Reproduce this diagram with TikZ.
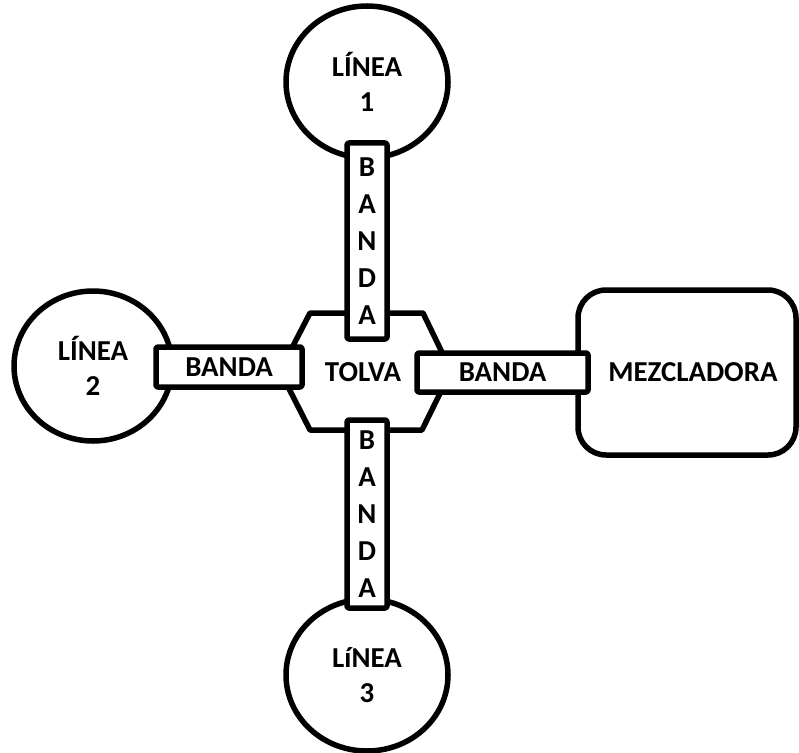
\documentclass[tikz,border=0pt]{standalone}
\usepackage{fontspec}
\setmainfont{Carlito}[BoldFont={Carlito Bold}]
\usetikzlibrary{shapes.geometric}
\begin{document}
\begin{tikzpicture}[x=1bp,y=-1bp,
  line width=5.5bp, line join=round,
  lbl/.style={font=\bfseries\fontsize{29}{35}\selectfont, align=center, inner sep=0pt},
  lineaellipse/.style={draw, ellipse, fill=white, inner sep=0pt, minimum width=162bp, minimum height=152bp, lbl},
  bandabox/.style={draw, fill=white, rounded corners=2bp, inner sep=0pt, lbl},
  vbanda/.style={bandabox, minimum width=40bp, font=\bfseries\fontsize{29}{37}\selectfont}
]
\useasboundingbox (0,0) rectangle (799,753);
% lines (ellipses)
\node[lineaellipse] (l1) at (367,82) {LÍNEA\\1};
\node[lineaellipse, minimum width=158bp, minimum height=150bp] (l2) at (93,366) {LÍNEA\\2};
\node[lineaellipse] (l3) at (367,675) {LíNEA\\3};
% mixer
\draw[fill=white, rounded corners=28bp] (578,290) rectangle (796,455);
\node[lbl] (mez) at (693,372) {MEZCLADORA};
% hopper
\coordinate (hl) at (280,371);
\coordinate (htl) at (310,313);
\coordinate (htr) at (423,313);
\coordinate (hr) at (451,371);
\coordinate (hbr) at (422,430);
\coordinate (hbl) at (310,430);
\draw[fill=white] (hl) -- (htl) -- (htr) -- (hr) -- (hbr) -- (hbl) -- cycle;
\node[lbl] (tolva) at (363,372) {TOLVA};
% belts
\node[vbanda, minimum height=196bp] (b1) at (367,241) {B\\A\\N\\D\\A};
\node[vbanda, minimum height=188bp] (b3) at (367,514) {B\\A\\N\\D\\A};
\node[bandabox, minimum width=146bp, minimum height=40bp] (b2) at (229,367) {BANDA};
\node[bandabox, minimum width=171bp, minimum height=39bp] (b4) at (502.5,372.5) {BANDA};
\end{tikzpicture}
\end{document}
